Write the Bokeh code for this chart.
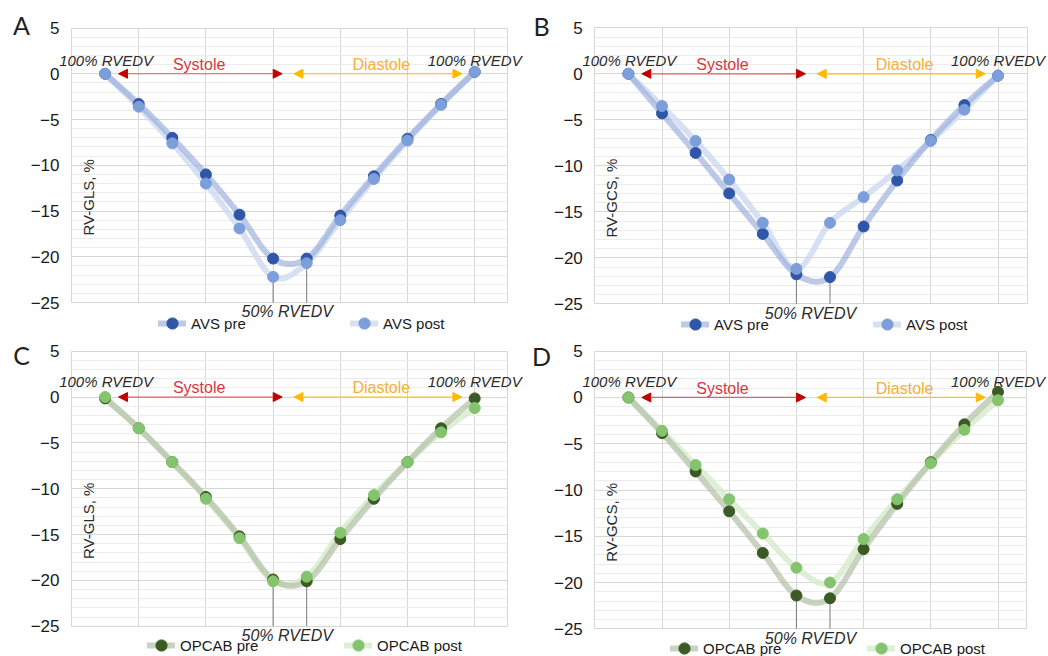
import numpy as np
from bokeh.plotting import figure
from bokeh.models import (Label, Legend, LegendItem, Arrow, NormalHead,
                          SingleIntervalTicker, FixedTicker, Range1d)
from bokeh.layouts import column, row
from bokeh.embed import file_html
from bokeh.resources import INLINE

# ---------------- data ----------------
points = list(range(1, 13))
y_ticks = [5, 0, -5, -10, -15, -20, -25]
y_tick_labels = ["5", "0", "\u22125", "\u221210", "\u221215", "\u221220", "\u221225"]

avs_gls_pre = [0, -3.3, -7.0, -11.0, -15.4, -20.2, -20.2, -15.5, -11.2, -7.1, -3.3, 0.2]
avs_gls_post = [0, -3.6, -7.6, -12.0, -16.9, -22.2, -20.7, -16.0, -11.5, -7.3, -3.4, 0.2]
avs_gcs_pre = [0, -4.3, -8.6, -13.0, -17.4, -21.8, -22.1, -16.6, -11.6, -7.2, -3.4, -0.2]
avs_gcs_post = [0, -3.5, -7.3, -11.5, -16.2, -21.2, -16.2, -13.4, -10.5, -7.3, -3.9, -0.2]
opcab_gls_pre = [-0.15, -3.4, -7.1, -10.9, -15.2, -19.9, -20.1, -15.5, -11.1, -7.1, -3.4, -0.15]
opcab_gls_post = [0, -3.4, -7.1, -11.1, -15.4, -20.1, -19.6, -14.8, -10.7, -7.1, -3.85, -1.2]
opcab_gcs_pre = [0, -3.85, -8.0, -12.3, -16.8, -21.4, -21.7, -16.4, -11.5, -7.0, -2.9, 0.6]
opcab_gcs_post = [0, -3.6, -7.3, -11.0, -14.7, -18.4, -20.0, -15.3, -11.0, -7.1, -3.5, -0.3]

FONT = "Liberation Sans"


def smooth(xs, ys, n=24):
    """Excel-like smoothed line (Catmull-Rom style Bezier) through the data points."""
    x = np.asarray(xs, float)
    y = np.asarray(ys, float)
    px = np.concatenate([[x[0]], x, [x[-1]]])
    py = np.concatenate([[y[0]], y, [y[-1]]])
    t = np.linspace(0, 1, n)
    ox, oy = [], []
    for i in range(len(x) - 1):
        p0 = np.array([px[i], py[i]])
        p1 = np.array([px[i + 1], py[i + 1]])
        p2 = np.array([px[i + 2], py[i + 2]])
        p3 = np.array([px[i + 3], py[i + 3]])
        c1 = p1 + (p2 - p0) / 6.0
        c2 = p2 - (p3 - p1) / 6.0
        tt = t if i == 0 else t[1:]
        a, b, c, d = (1 - tt) ** 3, 3 * (1 - tt) ** 2 * tt, 3 * (1 - tt) * tt ** 2, tt ** 3
        ox.extend(a * p1[0] + b * c1[0] + c * c2[0] + d * p2[0])
        oy.extend(a * p1[1] + b * c1[1] + c * c2[1] + d * p2[1])
    return ox, oy


BLUE = dict(pre_pt="#2f56a8", post_pt="#7c9edb", pre_ln="#93a9d8", post_ln="#cdd9f0", pre_a=0.62)
GREEN = dict(pre_pt="#3c5a23", post_pt="#85c46e", pre_ln="#b2c0a6", post_ln="#d6ebcb", pre_a=0.7)

# geometry (local pixels inside each figure): box left, box top (y=5), box bottom (y=-25)
panels = [
    dict(letter="A", ylabel="RV-GLS, %", pre=avs_gls_pre, post=avs_gls_post, names=("AVS pre", "AVS post"),
         col=BLUE, H=338, fx0=71.0, xmax=12.98, ytop=27.5, ybot=302.0, letter_xy=(21, 24),
         leg_y=323, leg_x=(158, 350), rv_y=1.45),
    dict(letter="B", ylabel="RV-GCS, %", pre=avs_gcs_pre, post=avs_gcs_post, names=("AVS pre", "AVS post"),
         col=BLUE, H=338, fx0=70.3, xmax=12.87, ytop=27.3, ybot=303.3, letter_xy=(17, 25),
         leg_y=324, leg_x=(157, 349), rv_y=1.45),
    dict(letter="C", ylabel="RV-GLS, %", pre=opcab_gls_pre, post=opcab_gls_post, names=("OPCAB pre", "OPCAB post"),
         col=GREEN, H=318, fx0=71.0, xmax=12.98, ytop=12.7, ybot=287.7, letter_xy=(21, 16),
         leg_y=307, leg_x=(147, 344), rv_y=1.7),
    dict(letter="D", ylabel="RV-GCS, %", pre=opcab_gcs_pre, post=opcab_gcs_post, names=("OPCAB pre", "OPCAB post"),
         col=GREEN, H=318, fx0=70.3, xmax=12.85, ytop=12.7, ybot=290.3, letter_xy=(17, 17),
         leg_y=310, leg_x=(146, 343), rv_y=1.7),
]

W = 524
PPU_X = 33.6
figs = []
for cfg in panels:
    H = cfg["H"]
    ppu_y = (cfg["ybot"] - cfg["ytop"]) / 30.0
    x0 = -cfg["fx0"] / PPU_X
    x1 = (W - cfg["fx0"]) / PPU_X
    y1 = 5 + cfg["ytop"] / ppu_y
    y0 = 5 - (H - cfg["ytop"]) / ppu_y
    p = figure(width=W, height=H, x_range=Range1d(x0, x1), y_range=Range1d(y0, y1),
               output_backend="svg", toolbar_location=None, title=None, x_axis_location=None,
               min_border=0)
    p.background_fill_color = "white"
    p.border_fill_color = "white"
    p.outline_line_color = None

    ax = p.yaxis[0]
    ax.fixed_location = 0
    ax.bounds = (-25, 5)
    ax.ticker = SingleIntervalTicker(interval=5, num_minor_ticks=5)
    ax.major_label_overrides = {t: s for t, s in zip(y_ticks, y_tick_labels)}
    ax.axis_line_color = None
    ax.major_tick_line_color = None
    ax.minor_tick_line_color = None
    ax.major_tick_out = 0
    ax.major_tick_in = 0
    ax.major_label_standoff = 8
    ax.major_label_text_font = FONT
    ax.major_label_text_font_size = "17px"
    ax.major_label_text_color = "#1a1a1a"

    p.ygrid.bounds = (-25, 5)
    p.ygrid.cross_bounds = (0, cfg["xmax"])
    p.ygrid.grid_line_color = "#d6d6d6"
    p.ygrid.minor_grid_line_color = "#ececec"
    p.xgrid.ticker = FixedTicker(ticks=[0, 2, 4, 6, 8, 10, 12, cfg["xmax"]])
    p.xgrid.cross_bounds = (-25, 5)
    p.xgrid.grid_line_color = "#d6d6d6"

    col = cfg["col"]
    pre, post = cfg["pre"], cfg["post"]

    # drop lines at the 50% RVEDV points
    low6 = min(pre[5], post[5])
    low7 = min(pre[6], post[6])
    p.segment(x0=[points[5], points[6]], y0=[low6, low7], x1=[points[5], points[6]], y1=[-25, -25],
              line_color="#7a7a7a", line_width=1)

    sx, sy = smooth(points, post)
    post_ln = p.line(sx, sy, line_color=col["post_ln"], line_width=6, line_alpha=0.8, line_cap="round")
    sx, sy = smooth(points, pre)
    pre_ln = p.line(sx, sy, line_color=col["pre_ln"], line_width=6, line_alpha=col["pre_a"], line_cap="round")
    pre_pt = p.scatter(points, pre, size=11, fill_color=col["pre_pt"], line_color=col["pre_pt"])
    post_pt = p.scatter(points, post, size=11, fill_color=col["post_pt"], line_color=col["post_pt"])

    # arrows
    p.add_layout(Arrow(start=NormalHead(size=9, fill_color="#c00000", line_color="#c00000"),
                       end=NormalHead(size=9, fill_color="#c00000", line_color="#c00000"),
                       x_start=1.4, y_start=0, x_end=6.27, y_end=0,
                       line_color="#e0625f", line_width=1.2))
    p.add_layout(Arrow(start=NormalHead(size=9, fill_color="#ffb900", line_color="#ffb900"),
                       end=NormalHead(size=9, fill_color="#ffb900", line_color="#ffb900"),
                       x_start=6.62, y_start=0, x_end=11.62, y_end=0,
                       line_color="#ffc21a", line_width=1.2))

    def lab(x, y, text, **kw):
        base = dict(text_font=FONT, text_font_size="15px", text_color="#2b2b2b",
                    text_align="center", text_baseline="middle")
        base.update(kw)
        p.add_layout(Label(x=x, y=y, text=text, **base))

    lab(1.03, cfg["rv_y"], "100% RVEDV", text_font_style="italic")
    lab(12.0, cfg["rv_y"], "100% RVEDV", text_font_style="italic")
    lab(3.8, 1.0, "Systole", text_font_size="16px", text_color="#d9363e")
    lab(9.22, 1.0, "Diastole", text_font_size="16px", text_color="#f6b030")
    lab(6.42, -26.0, "50% RVEDV", text_font_style="italic", text_font_size="16px")
    lab(0.5, -13.5, cfg["ylabel"], angle=np.pi / 2)

    # panel letter (screen units, frame == whole figure)
    lx, ly = cfg["letter_xy"]
    p.add_layout(Label(x=lx, y=H - ly, x_units="screen", y_units="screen",
                       text=cfg["letter"], text_font="Lato", text_font_size="25px", text_color="#231f20",
                       text_align="center", text_baseline="middle"))

    # legends
    gh = 30
    for (nm, rends, gx) in [(cfg["names"][0], [pre_ln, pre_pt], cfg["leg_x"][0]),
                            (cfg["names"][1], [post_ln, post_pt], cfg["leg_x"][1])]:
        lg = Legend(items=[LegendItem(label=nm, renderers=rends)],
                    location=(gx, H - (cfg["leg_y"] + gh / 2)),
                    padding=0, margin=0, spacing=0, glyph_width=28, glyph_height=gh, label_height=gh,
                    label_standoff=5, border_line_alpha=0, background_fill_alpha=0,
                    label_text_font=FONT, label_text_font_size="15px", label_text_color="#1a1a1a")
        p.add_layout(lg)
    figs.append(p)

layout = column(row(figs[0], figs[1]), row(figs[2], figs[3]))
open("out.html", "w").write(file_html(layout, INLINE))
